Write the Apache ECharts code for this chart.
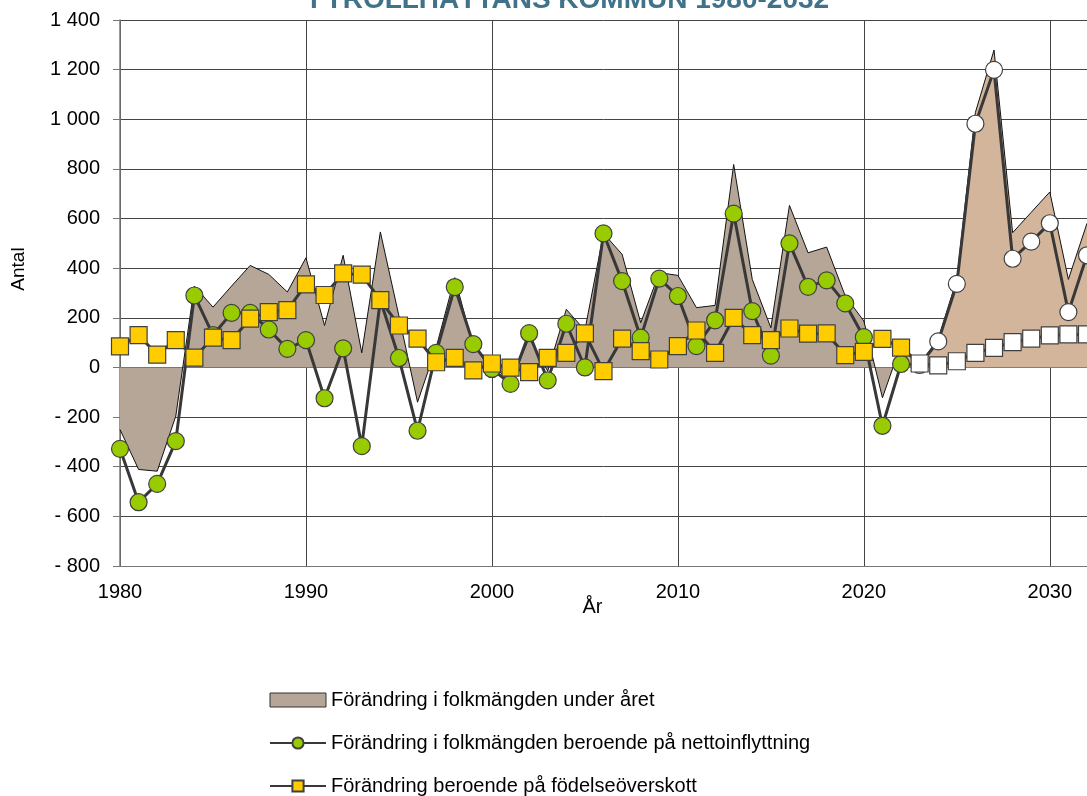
<!DOCTYPE html>
<html>
<head>
<meta charset="utf-8">
<title>Trollhättans kommun 1980-2032</title>
<script src="https://cdn.jsdelivr.net/npm/echarts@6/dist/echarts.min.js"></script>
<style>
  html, body { margin: 0; padding: 0; background: #fff; }
  #chart { width: 1087px; height: 796px; }
</style>
</head>
<body>
<div id="chart"></div>
<script>
// år
var years = [1980, 1981, 1982, 1983, 1984, 1985, 1986, 1987, 1988, 1989,
             1990, 1991, 1992, 1993, 1994, 1995, 1996, 1997, 1998, 1999,
             2000, 2001, 2002, 2003, 2004, 2005, 2006, 2007, 2008, 2009,
             2010, 2011, 2012, 2013, 2014, 2015, 2016, 2017, 2018, 2019,
             2020, 2021, 2022, 2023, 2024, 2025, 2026, 2027, 2028, 2029,
             2030, 2031, 2032];
var firstForecastYear = 2023;

// förändring i folkmängden, utfall 1980-2022
var histYears = [1980, 1981, 1982, 1983, 1984, 1985, 1986, 1987, 1988, 1989,
                 1990, 1991, 1992, 1993, 1994, 1995, 1996, 1997, 1998, 1999,
                 2000, 2001, 2002, 2003, 2004, 2005, 2006, 2007, 2008, 2009,
                 2010, 2011, 2012, 2013, 2014, 2015, 2016, 2017, 2018, 2019,
                 2020, 2021, 2022];
var totalChange = [-250, -411, -418, -196, 328, 243, 328, 411, 375, 304,
                   442, 169, 452, 59, 546, 207, -140, 80, 362, 83,
                   18, -66, 120, -15, 234, 150, 540, 456, 180, 382,
                   371, 241, 250, 818, 355, 160, 653, 462, 485, 288,
                   187, -122, 92];

// förändring i folkmängden, prognos 2022-2032
var forecastYears = [2022, 2023, 2024, 2025, 2026, 2027, 2028, 2029, 2030, 2031, 2032];
var forecastChange = [92, 15, 115, 355, 1028, 1279, 543, 625, 707, 355, 581];

// nettoinflyttning
var netMigration = [-328, -543, -469, -297, 290, 130, 220, 220, 153, 75,
                    110, -124, 77, -317, 272, 38, -255, 59, 324, 94,
                    -6, -66, 138, -52, 176, 0, 540, 348, 120, 358,
                    288, 86, 190, 620, 227, 48, 500, 325, 351, 258,
                    122, -235, 14, 10, 105, 337, 982, 1199, 438, 507,
                    581, 223, 452];

// födelseöverskott
var birthSurplus = [85, 130, 52, 110, 40, 120, 110, 197, 223, 231,
                    335, 292, 379, 374, 271, 169, 116, 21, 39, -12,
                    16, -1, -19, 39, 59, 137, -15, 116, 66, 32,
                    86, 149, 59, 200, 130, 110, 157, 136, 137, 50,
                    63, 115, 80, 16, 8, 25, 59, 79, 102, 116,
                    129, 133, 133];

var yTicks = { min: -800, max: 1400, step: 200 };

var AREA = 'Förändring i folkmängden under året';
var NET = 'Förändring i folkmängden beroende på nettoinflyttning';
var BIRTH = 'Förändring beroende på födelseöverskott';

var FONT = '"Liberation Sans", Arial, sans-serif';

function pairs(xs, vs) {
  return xs.map(function (x, i) { return [x, vs[i]]; });
}

// prognosåren ritas med vita markörer
function withForecast(vs) {
  return years.map(function (y, i) {
    var item = { value: [y, vs[i]] };
    if (y >= firstForecastYear) item.itemStyle = { color: '#ffffff' };
    return item;
  });
}

function fmt(v) {
  var s = String(Math.abs(v)).replace(/\B(?=(\d{3})+(?!\d))/g, ' ');
  return v < 0 ? '- ' + s : s;
}

var chart = echarts.init(document.getElementById('chart'));

var option = {
  animation: false,
  textStyle: { fontFamily: FONT },
  title: {
    text: 'I TROLLHÄTTANS KOMMUN 1980-2032',
    left: 305,
    top: -19,
    textStyle: { fontSize: 28, fontWeight: 'bold', color: '#40728a', fontFamily: FONT }
  },
  legend: {
    orient: 'vertical',
    left: 269,
    top: 690,
    height: 140,
    padding: 0,
    itemWidth: 56,
    itemHeight: 14,
    itemGap: 23,
    textStyle: { fontSize: 20, color: '#000', fontFamily: FONT },
    data: [
      { name: AREA, icon: 'rect', itemStyle: { color: '#b5a697', borderColor: '#333', borderWidth: 1 } },
      { name: NET },
      { name: BIRTH }
    ]
  },
  grid: { left: 120, right: 0, top: 20, bottom: 230, containLabel: false },
  xAxis: {
    type: 'value',
    min: 1980,
    max: 2032,
    interval: 10,
    name: 'År',
    nameLocation: 'middle',
    nameGap: 31,
    nameMoveOverlap: false,
    nameTextStyle: { fontSize: 20, color: '#000', padding: [0, 22, 0, 0] },
    axisLine: { onZero: false, lineStyle: { color: '#777', width: 1 } },
    axisTick: { show: false },
    axisLabel: { fontSize: 20, color: '#000', margin: 16, formatter: function (v) { return String(v); } },
    splitLine: { show: true, lineStyle: { color: '#444', width: 1 } }
  },
  yAxis: {
    type: 'value',
    min: yTicks.min,
    max: yTicks.max,
    interval: yTicks.step,
    name: 'Antal',
    nameLocation: 'middle',
    nameGap: 92,
    nameMoveOverlap: false,
    nameTextStyle: { fontSize: 19, color: '#000', padding: [0, 0, 0, 48] },
    axisLine: { show: true, lineStyle: { color: '#777', width: 1.5 } },
    axisTick: { show: true, length: 7, lineStyle: { color: '#777' } },
    axisLabel: { fontSize: 20, color: '#000', margin: 20, formatter: fmt },
    splitLine: { show: true, lineStyle: { color: '#444', width: 1 } }
  },
  series: [
    {
      name: AREA,
      type: 'line',
      data: pairs(histYears, totalChange),
      symbol: 'none',
      z: 1,
      color: '#b5a697',
      lineStyle: { color: '#111', width: 1 },
      areaStyle: { color: '#b5a697', opacity: 1 }
    },
    {
      name: 'Prognos',
      type: 'line',
      data: pairs(forecastYears, forecastChange),
      symbol: 'none',
      z: 1,
      lineStyle: { color: '#111', width: 1 },
      areaStyle: { color: '#d3b59c', opacity: 1 }
    },
    {
      name: NET,
      type: 'line',
      data: withForecast(netMigration),
      symbol: 'circle',
      symbolSize: 17,
      z: 3,
      lineStyle: { color: '#383838', width: 3 },
      itemStyle: { color: '#99cc00', borderColor: '#404040', borderWidth: 1.2 }
    },
    {
      name: BIRTH,
      type: 'line',
      data: withForecast(birthSurplus),
      symbol: 'rect',
      symbolSize: 17,
      z: 4,
      lineStyle: { color: '#383838', width: 3 },
      itemStyle: { color: '#ffcc00', borderColor: '#404040', borderWidth: 1.2 }
    }
  ]
};

chart.setOption(option);
</script>
</body>
</html>
